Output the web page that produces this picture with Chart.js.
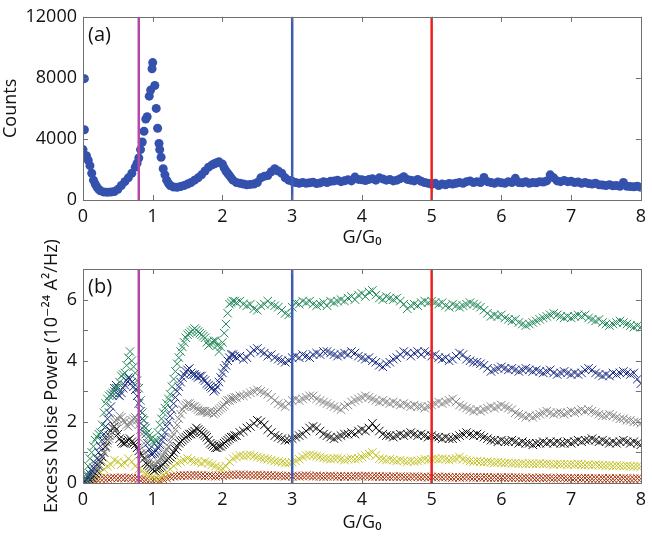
<!DOCTYPE html>
<html>
<head>
<meta charset="utf-8">
<script src="https://cdn.jsdelivr.net/npm/chart.js@4.4.1/dist/chart.umd.min.js"></script>
<style>
  html, body { margin: 0; padding: 0; background: #fff; }
  #wrap { position: relative; width: 652px; height: 547px; }
  #wrap canvas { position: absolute; left: 0; }
  #countsChart { top: 0; }
  #noiseChart { top: 220px; }
</style>
</head>
<body>
<div id="wrap">
  <canvas id="countsChart" width="652" height="260"></canvas>
  <canvas id="noiseChart" width="652" height="327"></canvas>
</div>
<script>
// sampling of the conductance axis (G/G0), one value every 0.05
const gStep = 0.05;
// the steep low-G part (0.025 .. 2.175) is sampled in between as well
const gMidStart = 0.025;

// vertical markers
const markerG = [0.8, 3, 5];
const markerColors = ['#b548a9', '#3d5db5', '#ef1f1f'];

// (a) histogram counts
const counts = [
  3300, 2900, 2250, 1300, 850, 600, 520, 500, 520, 560, 700, 950, 1200, 1450, 1750, 2150, 2750, 3800, 5300, 6800,
  9000, 6000, 3300, 2050, 1300, 950, 850, 830, 880, 950, 1050, 1150, 1300, 1450, 1650, 1900, 2150, 2300, 2400, 2500,
  2350, 1900, 1600, 1300, 1150, 1100, 1050, 1000, 1020, 1050, 1150, 1450, 1550, 1600, 1850, 2050, 1900, 1750, 1450, 1300,
  1230, 1150, 1100, 1150, 1100, 1130, 1170, 1080, 1120, 1200, 1150, 1230, 1250, 1300, 1200, 1260, 1330, 1250, 1500, 1350,
  1330, 1280, 1350, 1400, 1300, 1450, 1380, 1300, 1350, 1250, 1300, 1400, 1520, 1350, 1300, 1250, 1350, 1230, 1150, 1100,
  1030, 1100, 950, 1050, 1000, 1080, 1050, 1100, 1150, 1100, 1200, 1250, 1150, 1200, 1150, 1480, 1200, 1150, 1100, 1180,
  1130, 1100, 1200, 1150, 1420, 1150, 1130, 1200, 1100, 1150, 1130, 1200, 1180, 1250, 1650, 1450, 1250, 1200, 1280, 1200,
  1230, 1150, 1180, 1100, 1150, 1080, 1050, 1100, 1000, 980, 950, 1000, 930, 950, 900, 1150, 900, 880, 860, 900,
  830
];
// extra dots off the regular grid (edge, flanks of the 1 G0 and 2 G0 peaks)
const countsExtraG = [0.02, 0.02, 0.075, 0.125, 0.175, 0.225, 0.775, 0.825, 0.875, 0.92, 0.97, 0.99, 1.03, 1.07, 1.09, 1.12, 1.175, 1.225, 1.875, 1.925, 2.025, 2.075, 2.125];
const countsExtra = [7950, 4600, 2600, 1750, 1050, 700, 2400, 3300, 4500, 5450, 7200, 8600, 7500, 4700, 3700, 2800, 1650, 1100, 2350, 2450, 2100, 1750, 1450];

// (b) excess noise power, six bias settings
const noiseGreen = [
  0.05, 0.3, 0.8, 1.2, 1.5, 1.65, 2.3, 2.75, 2.9, 3.0, 3.1, 3.5, 3.6, 4.1, 4.0, 3.6, 3.1, 2.3, 1.8, 1.55,
  1.35, 1.4, 1.9, 2.3, 2.6, 2.9, 3.4, 3.9, 4.3, 4.6, 4.85, 4.95, 5.05, 4.95, 4.85, 4.75, 4.5, 4.6, 4.65, 4.3,
  4.6, 5.2, 5.85, 5.95, 5.9, 5.95, 5.85, 5.8, 5.85, 5.7, 5.65, 5.8, 5.85, 5.95, 5.85, 5.8, 5.75, 5.65, 5.55, 5.5,
  5.75, 5.9, 5.85, 5.95, 5.9, 5.95, 5.85, 5.8, 5.85, 5.9, 5.8, 5.95, 5.9, 5.95, 6.0, 5.95, 6.05, 6.1, 6.0, 6.15,
  6.2, 6.1, 6.25, 6.3, 6.15, 6.05, 6.0, 6.1, 6.05, 6.0, 6.05, 5.95, 5.85, 5.7, 5.8, 5.85, 5.8, 5.9, 5.95, 5.9,
  5.95, 5.9, 5.85, 5.9, 5.8, 5.75, 5.85, 5.8, 5.75, 5.8, 5.85, 5.9, 5.85, 5.8, 5.75, 5.65, 5.55, 5.45, 5.5, 5.45,
  5.5, 5.4, 5.35, 5.3, 5.35, 5.25, 5.2, 5.15, 5.2, 5.25, 5.3, 5.35, 5.4, 5.45, 5.5, 5.55, 5.5, 5.45, 5.4, 5.45,
  5.4, 5.45, 5.5, 5.45, 5.5, 5.4, 5.35, 5.3, 5.35, 5.25, 5.2, 5.15, 5.2, 5.25, 5.3, 5.25, 5.2, 5.15, 5.1, 5.15,
  5.1
];
const noiseGreenMid = [
  0.15, 0.55, 1.0, 1.4, 1.6, 1.9, 2.6, 2.85, 2.95, 3.1, 3.3, 3.55, 3.85, 4.3, 3.8, 3.35, 2.7, 2.05, 1.65, 1.45,
  1.3, 1.65, 2.1, 2.45, 2.75, 3.15, 3.65, 4.1, 4.45, 4.75, 4.9, 5.0, 5.0, 4.9, 4.8, 4.6, 4.55, 4.65, 4.5, 4.45,
  4.9, 5.55, 5.9, 5.95
];
const noiseNavy = [
  0.0, 0.1, 0.3, 0.5, 0.8, 1.2, 1.6, 2.1, 2.5, 3.1, 2.9, 2.95, 3.2, 3.45, 3.3, 3.05, 2.6, 2.1, 1.6, 1.1,
  0.95, 1.05, 1.25, 1.5, 1.85, 2.2, 2.6, 3.0, 3.3, 3.55, 3.7, 3.6, 3.55, 3.45, 3.5, 3.35, 3.2, 3.1, 3.05, 3.3,
  3.6, 3.85, 4.1, 4.2, 4.1, 4.15, 4.05, 4.1, 4.25, 4.35, 4.4, 4.3, 4.25, 4.15, 4.2, 4.1, 4.05, 4.0, 3.95, 4.0,
  4.1, 4.15, 4.1, 4.2, 4.15, 4.1, 4.2, 4.25, 4.2, 4.3, 4.3, 4.25, 4.2, 4.15, 4.2, 4.25, 4.2, 4.3, 4.25, 4.15,
  4.1, 4.05, 4.1, 4.0, 3.95, 3.85, 3.8, 3.9, 3.95, 4.05, 4.1, 4.2, 4.3, 4.25, 4.15, 4.25, 4.3, 4.2, 4.3, 4.25,
  4.15, 4.2, 4.1, 4.05, 4.1, 4.0, 4.05, 4.15, 4.25, 4.2, 4.05, 4.0, 3.95, 3.95, 3.9, 3.85, 3.75, 3.65, 3.7, 3.75,
  3.8, 3.75, 3.7, 3.75, 3.7, 3.65, 3.7, 3.75, 3.7, 3.65, 3.7, 3.65, 3.6, 3.65, 3.7, 3.6, 3.55, 3.6, 3.65, 3.6,
  3.55, 3.6, 3.55, 3.6, 3.7, 3.75, 3.7, 3.6, 3.55, 3.5, 3.55, 3.5, 3.6, 3.55, 3.6, 3.65, 3.6, 3.55, 3.6, 3.4,
  3.25
];
const noiseNavyMid = [
  0.05, 0.2, 0.4, 0.65, 1.0, 1.4, 1.85, 2.3, 2.85, 3.2, 2.85, 3.1, 3.35, 3.4, 3.15, 2.85, 2.35, 1.85, 1.3, 0.95,
  1.0, 1.15, 1.4, 1.65, 2.0, 2.4, 2.8, 3.15, 3.45, 3.65, 3.75, 3.55, 3.5, 3.5, 3.4, 3.25, 3.15, 3.0, 3.15, 3.45,
  3.75, 4.0, 4.2, 4.15
];
const noiseGray = [
  0.0, 0.05, 0.15, 0.3, 0.5, 0.75, 1.0, 1.3, 1.6, 2.0, 2.1, 2.15, 2.0, 1.85, 2.05, 2.15, 1.9, 1.6, 1.0, 0.7,
  0.55, 0.6, 0.8, 0.9, 1.1, 1.35, 1.6, 1.9, 2.25, 2.5, 2.6, 2.55, 2.5, 2.4, 2.35, 2.35, 2.3, 2.3, 2.3, 2.4,
  2.5, 2.65, 2.7, 2.75, 2.8, 2.85, 2.85, 2.9, 2.95, 3.0, 3.05, 3.0, 2.95, 2.9, 2.8, 2.7, 2.6, 2.55, 2.5, 2.6,
  2.7, 2.75, 2.7, 2.75, 2.8, 2.85, 2.85, 2.75, 2.7, 2.65, 2.6, 2.55, 2.5, 2.45, 2.4, 2.5, 2.55, 2.65, 2.7, 2.75,
  2.8, 2.85, 2.8, 2.75, 2.7, 2.65, 2.7, 2.65, 2.6, 2.65, 2.6, 2.55, 2.6, 2.55, 2.5, 2.55, 2.5, 2.5, 2.45, 2.5,
  2.55, 2.6, 2.65, 2.6, 2.65, 2.7, 2.75, 2.65, 2.55, 2.5, 2.45, 2.4, 2.35, 2.4, 2.35, 2.4, 2.45, 2.5, 2.45, 2.5,
  2.55, 2.5, 2.45, 2.4, 2.3, 2.25, 2.2, 2.15, 2.2, 2.15, 2.2, 2.25, 2.3, 2.35, 2.3, 2.25, 2.3, 2.3, 2.25, 2.3,
  2.35, 2.3, 2.35, 2.4, 2.35, 2.4, 2.35, 2.3, 2.25, 2.2, 2.2, 2.25, 2.2, 2.15, 2.1, 2.1, 2.05, 2.05, 2.0, 2.0,
  1.95
];
const noiseGrayMid = [
  0.02, 0.1, 0.22, 0.4, 0.62, 0.88, 1.15, 1.45, 1.8, 2.05, 2.2, 2.05, 1.9, 1.95, 2.1, 2.05, 1.75, 1.3, 0.85, 0.6,
  0.55, 0.7, 0.85, 1.0, 1.2, 1.5, 1.75, 2.1, 2.4, 2.55, 2.6, 2.5, 2.45, 2.35, 2.35, 2.3, 2.35, 2.25, 2.35, 2.45,
  2.55, 2.7, 2.75, 2.8
];
const noiseBlack = [
  0.0, 0.02, 0.1, 0.25, 0.4, 0.7, 1.0, 1.4, 1.7, 1.85, 1.6, 1.35, 1.3, 1.4, 1.35, 1.25, 1.05, 0.9, 0.65, 0.55,
  0.45, 0.45, 0.5, 0.6, 0.75, 0.85, 1.0, 1.2, 1.35, 1.45, 1.55, 1.6, 1.7, 1.75, 1.65, 1.55, 1.4, 1.25, 1.15, 1.2,
  1.25, 1.35, 1.45, 1.5, 1.55, 1.65, 1.7, 1.8, 1.85, 1.95, 2.05, 2.0, 1.9, 1.75, 1.65, 1.55, 1.5, 1.45, 1.4, 1.4,
  1.45, 1.5, 1.55, 1.6, 1.7, 1.8, 1.85, 1.8, 1.7, 1.6, 1.55, 1.5, 1.45, 1.5, 1.55, 1.6, 1.6, 1.65, 1.6, 1.7,
  1.75, 1.7, 1.8, 1.95, 1.8, 1.7, 1.6, 1.55, 1.55, 1.5, 1.55, 1.6, 1.55, 1.6, 1.65, 1.6, 1.55, 1.6, 1.55, 1.5,
  1.55, 1.5, 1.5, 1.45, 1.5, 1.45, 1.45, 1.5, 1.55, 1.6, 1.65, 1.6, 1.55, 1.6, 1.55, 1.5, 1.45, 1.4, 1.4, 1.35,
  1.4, 1.35, 1.35, 1.4, 1.35, 1.3, 1.35, 1.3, 1.3, 1.25, 1.3, 1.3, 1.35, 1.3, 1.35, 1.3, 1.35, 1.3, 1.3, 1.35,
  1.3, 1.35, 1.4, 1.35, 1.4, 1.4, 1.45, 1.4, 1.35, 1.4, 1.35, 1.3, 1.35, 1.3, 1.35, 1.4, 1.35, 1.3, 1.35, 1.3,
  1.25
];
const noiseBlackMid = [
  0.0, 0.05, 0.18, 0.32, 0.55, 0.85, 1.2, 1.55, 1.8, 1.75, 1.45, 1.3, 1.35, 1.45, 1.3, 1.15, 0.95, 0.8, 0.6, 0.5,
  0.4, 0.48, 0.55, 0.68, 0.8, 0.92, 1.1, 1.3, 1.4, 1.5, 1.6, 1.65, 1.8, 1.7, 1.6, 1.5, 1.3, 1.2, 1.15, 1.2,
  1.3, 1.4, 1.5, 1.55
];
const noiseYellow = [
  0.0, 0.02, 0.08, 0.15, 0.25, 0.35, 0.45, 0.55, 0.6, 0.75, 0.7, 0.6, 0.65, 0.8, 0.7, 0.55, 0.45, 0.4, 0.3, 0.25,
  0.2, 0.15, 0.18, 0.25, 0.35, 0.45, 0.55, 0.65, 0.7, 0.75, 0.8, 0.75, 0.7, 0.7, 0.65, 0.7, 0.65, 0.6, 0.55, 0.5,
  0.48, 0.55, 0.7, 0.8, 0.85, 0.9, 0.88, 0.9, 0.92, 0.88, 0.85, 0.82, 0.8, 0.78, 0.75, 0.72, 0.7, 0.68, 0.65, 0.65,
  0.68, 0.72, 0.78, 0.85, 0.9, 0.92, 0.9, 0.88, 0.85, 0.82, 0.8, 0.78, 0.8, 0.82, 0.78, 0.75, 0.78, 0.8, 0.78, 0.8,
  0.85, 0.9, 0.95, 1.0, 0.9, 0.8, 0.78, 0.75, 0.78, 0.75, 0.72, 0.75, 0.72, 0.7, 0.72, 0.7, 0.72, 0.75, 0.78, 0.75,
  0.78, 0.8, 0.78, 0.8, 0.78, 0.75, 0.78, 0.8, 0.85, 0.78, 0.75, 0.72, 0.7, 0.72, 0.7, 0.68, 0.7, 0.68, 0.66, 0.68,
  0.66, 0.65, 0.66, 0.64, 0.65, 0.63, 0.64, 0.62, 0.64, 0.63, 0.62, 0.64, 0.62, 0.63, 0.62, 0.6, 0.62, 0.61, 0.62, 0.6,
  0.61, 0.6, 0.62, 0.6, 0.59, 0.6, 0.58, 0.6, 0.59, 0.58, 0.57, 0.58, 0.56, 0.57, 0.56, 0.55, 0.56, 0.55, 0.54, 0.55,
  0.54
];
const noiseRed = [
  0.0, 0.02, 0.05, 0.1, 0.12, 0.14, 0.15, 0.15, 0.16, 0.17, 0.16, 0.17, 0.16, 0.17, 0.16, 0.15, 0.14, 0.12, 0.1, 0.08,
  0.07, 0.07, 0.08, 0.12, 0.16, 0.2, 0.22, 0.23, 0.24, 0.25, 0.24, 0.25, 0.26, 0.25, 0.24, 0.23, 0.24, 0.23, 0.22, 0.23,
  0.24, 0.25, 0.26, 0.27, 0.26, 0.27, 0.26, 0.25, 0.26, 0.25, 0.26, 0.25, 0.24, 0.25, 0.24, 0.23, 0.24, 0.23, 0.22, 0.23,
  0.22, 0.23, 0.22, 0.23, 0.24, 0.23, 0.22, 0.23, 0.22, 0.21, 0.22, 0.23, 0.22, 0.21, 0.22, 0.21, 0.22, 0.21, 0.22, 0.23,
  0.22, 0.23, 0.22, 0.21, 0.22, 0.21, 0.2, 0.21, 0.2, 0.21, 0.2, 0.21, 0.2, 0.19, 0.2, 0.21, 0.2, 0.19, 0.2, 0.19,
  0.2, 0.19, 0.2, 0.19, 0.2, 0.19, 0.18, 0.19, 0.18, 0.19, 0.2, 0.19, 0.18, 0.19, 0.18, 0.19, 0.18, 0.17, 0.18, 0.17,
  0.18, 0.17, 0.18, 0.17, 0.18, 0.17, 0.16, 0.17, 0.16, 0.17, 0.16, 0.17, 0.16, 0.17, 0.16, 0.15, 0.16, 0.17, 0.16, 0.15,
  0.16, 0.15, 0.16, 0.15, 0.16, 0.15, 0.14, 0.15, 0.14, 0.15, 0.14, 0.15, 0.14, 0.15, 0.14, 0.15, 0.14, 0.13, 0.14, 0.15,
  0.14
];

const noiseSeries = [
  { values: noiseGreen, mid: noiseGreenMid, color: '#23895a' },
  { values: noiseNavy, mid: noiseNavyMid, color: '#182a80' },
  { values: noiseGray, mid: noiseGrayMid, color: '#858585' },
  { values: noiseBlack, mid: noiseBlackMid, color: '#111111' },
  { values: noiseYellow, mid: [], color: '#c3c327' },
  { values: noiseRed, mid: [], color: '#a8340c' }
];

const FONT = '"Open Sans", "DejaVu Sans", sans-serif';
const toPoints = (vals, start = 0) => vals.map((v, i) => ({ x: +(start + i * gStep).toFixed(3), y: v }));
const plainTick = v => String(v);

// matlab-like box with inward ticks + panel label
const boxTicks = {
  id: 'boxTicks',
  afterDatasetsDraw(chart) {
    const { ctx, chartArea: a, scales: { x, y } } = chart;
    ctx.save();
    ctx.strokeStyle = '#707070';
    ctx.lineWidth = 1;
    ctx.strokeRect(Math.round(a.left) + 0.5, Math.round(a.top) + 0.5, Math.round(a.right - a.left), Math.round(a.bottom - a.top));
    ctx.beginPath();
    x.ticks.forEach(t => {
      const px = Math.round(x.getPixelForValue(t.value)) + 0.5;
      ctx.moveTo(px, a.bottom); ctx.lineTo(px, a.bottom - 5);
      ctx.moveTo(px, a.top); ctx.lineTo(px, a.top + 5);
    });
    y.ticks.forEach(t => {
      const py = Math.round(y.getPixelForValue(t.value)) + 0.5;
      ctx.moveTo(a.left, py); ctx.lineTo(a.left + 5, py);
      ctx.moveTo(a.right, py); ctx.lineTo(a.right - 5, py);
    });
    ctx.stroke();
    const lab = chart.options.plugins.boxTicks.label;
    ctx.fillStyle = '#111';
    ctx.font = '20px ' + FONT;
    ctx.textBaseline = 'alphabetic';
    ctx.fillText(lab, a.left + 5, a.top + 24);
    ctx.restore();
  }
};

const markerDatasets = (yMax) => markerG.map((g, i) => ({
  type: 'line',
  data: [{ x: g, y: 0 }, { x: g, y: yMax }],
  borderColor: markerColors[i],
  borderWidth: 2.5,
  pointRadius: 0,
  showLine: true
}));

const xScale = (titlePad, height) => ({
  type: 'linear', min: 0, max: 8,
  grid: { display: false, drawTicks: false },
  border: { display: false },
  ticks: { stepSize: 1, padding: 6, color: '#111', font: { family: FONT, size: 18 }, callback: plainTick },
  title: { display: true, text: 'G/G₀', color: '#111', font: { family: FONT, size: 18 }, padding: { top: titlePad, bottom: titlePad } },
  afterFit: s => { s.height = height; }
});

// top panel
new Chart(document.getElementById('countsChart'), {
  type: 'scatter',
  data: {
    datasets: [
      ...markerDatasets(12000),
      {
        data: toPoints(counts).concat(countsExtra.map((v, i) => ({ x: countsExtraG[i], y: v }))),
        backgroundColor: '#3451ad',
        borderColor: '#3451ad',
        borderWidth: 0,
        pointRadius: 4.5
      }
    ]
  },
  options: {
    responsive: false,
    animation: false,
    layout: { padding: { top: 5, right: 10, left: 0, bottom: 0 } },
    plugins: { legend: { display: false }, tooltip: { enabled: false }, boxTicks: { label: '(a)' } },
    scales: {
      x: xScale(11, 60),
      y: {
        min: 0, max: 12000,
        grid: { display: false, drawTicks: false },
        border: { display: false },
        ticks: { stepSize: 4000, padding: 6, color: '#111', font: { family: FONT, size: 18 }, callback: plainTick },
        title: { display: true, text: 'Counts', color: '#111', font: { family: FONT, size: 18 }, padding: { top: 0, bottom: 0 } },
        afterFit: s => { s.width = 83; }
      }
    }
  },
  plugins: [boxTicks]
});

// bottom panel
new Chart(document.getElementById('noiseChart'), {
  type: 'scatter',
  data: {
    datasets: [
      ...markerDatasets(7),
      ...noiseSeries.map(s => ({
        data: toPoints(s.values).concat(toPoints(s.mid, gMidStart)),
        pointStyle: 'crossRot',
        pointRadius: 6,
        borderWidth: 1,
        borderColor: s.color,
        backgroundColor: s.color
      }))
    ]
  },
  options: {
    responsive: false,
    animation: false,
    layout: { padding: { top: 49, right: 10, left: 0, bottom: 0 } },
    plugins: { legend: { display: false }, tooltip: { enabled: false }, boxTicks: { label: '(b)' } },
    scales: {
      x: xScale(13, 64),
      y: {
        min: 0, max: 7,
        grid: { display: false, drawTicks: false },
        border: { display: false },
        ticks: {
          stepSize: 1, padding: 6, color: '#111', font: { family: FONT, size: 18 },
          callback: v => (v % 2 === 0 ? String(v) : '')
        },
        title: { display: true, text: 'Excess Noise Power (10⁻²⁴ A²/Hz)', color: '#111', font: { family: FONT, size: 18 }, padding: { top: 41, bottom: 0 } },
        afterFit: s => { s.width = 83; }
      }
    }
  },
  plugins: [boxTicks]
});
</script>
</body>
</html>
